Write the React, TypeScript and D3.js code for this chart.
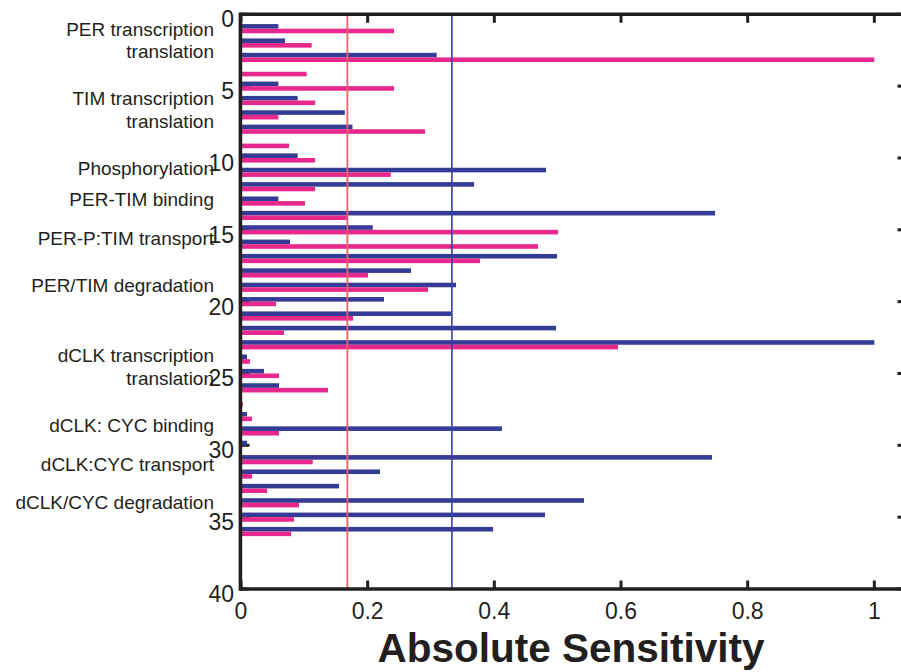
import React from "react";
import * as d3 from "d3";

// parameter index 1..36, two sensitivity series per parameter
const paramIndex = d3.range(1, 37);
const blueVals = [
  0.059, 0.0695, 0.309, 0, 0.059, 0.0895, 0.164, 0.176, 0, 0.0895,
  0.4816, 0.368, 0.059, 0.7485, 0.208, 0.0774, 0.499, 0.2684, 0.3395, 0.2258,
  0.3316, 0.4974, 1.0, 0.0095, 0.0363, 0.06, 0, 0.0095, 0.412, 0.0095,
  0.7437, 0.2195, 0.1547, 0.5416, 0.48, 0.398,
];
const pinkVals = [
  0.2416, 0.1116, 1.0, 0.1037, 0.2416, 0.117, 0.059, 0.2905, 0.0758, 0.117,
  0.2364, 0.117, 0.101, 0.1685, 0.5006, 0.469, 0.3774, 0.2005, 0.2953, 0.0553,
  0.1769, 0.0679, 0.5953, 0.0142, 0.06, 0.1374, 0.003, 0.0174, 0.06, 0.0016,
  0.1132, 0.0174, 0.041, 0.0916, 0.0837, 0.079,
];

const xTicks = [0, 0.2, 0.4, 0.6, 0.8, 1];
const xTickLabels = ["0", "0.2", "0.4", "0.6", "0.8", "1"];
const yTicks = [0, 5, 10, 15, 20, 25, 30, 35, 40];

// process group labels, placed at a parameter-index position
const groupLabels = [
  "PER transcription", "translation", "TIM transcription", "translation",
  "Phosphorylation", "PER-TIM binding", "PER-P:TIM transport", "PER/TIM degradation",
  "dCLK transcription", "translation", "dCLK: CYC binding", "dCLK:CYC transport",
  "dCLK/CYC degradation",
];
const groupLabelAt = [1.51, 3.06, 6.29, 7.89, 11.18, 13.34, 16.03, 19.3, 24.2, 25.8, 29.07, 31.78, 34.43];

const redLine = 0.168;
const blueLine = 0.333;

const W = 901, H = 672;
const BLUE = "#353c96";
const PINK = "#e8288c";

export default function App() {
  const x = d3.scaleLinear().domain([0, 1.05]).range([241, 906]);
  const y = d3.scaleLinear().domain([0, 40]).range([14.3, 589]);
  const barH = y(0.32) - y(0);
  const tickLen = 8.5;
  const font = "'Liberation Sans', Arial, Helvetica, sans-serif";
  const [x0, x1] = x.range();
  const [y0, y1] = y.range();

  return (
    <svg width={W} height={H} style={{ position: "absolute", left: 0, top: 0, background: "#fff" }}>
      {/* ticks (drawn under bars) */}
      <g stroke="#231f20" strokeWidth={3}>
        {yTicks.map(t => (
          <g key={"yt" + t}>
            <line x1={x0} x2={x0 + tickLen} y1={y(t)} y2={y(t)} />
            <line x1={x1 - tickLen} x2={x1} y1={y(t)} y2={y(t)} />
          </g>
        ))}
        {xTicks.map(t => (
          <g key={"xt" + t}>
            <line x1={x(t)} x2={x(t)} y1={y0} y2={y0 + tickLen} />
            <line x1={x(t)} x2={x(t)} y1={y1 - tickLen} y2={y1} />
          </g>
        ))}
      </g>

      {/* bars */}
      <g>
        {paramIndex.map((p, i) => (
          <g key={"b" + p}>
            {blueVals[i] > 0 && (
              <rect x={x(0)} y={y(p) - barH} width={x(blueVals[i]) - x(0)} height={barH} fill={BLUE} />
            )}
            {pinkVals[i] > 0 && (
              <rect x={x(0)} y={y(p)} width={x(pinkVals[i]) - x(0)} height={barH} fill={PINK} />
            )}
          </g>
        ))}
      </g>

      {/* threshold lines */}
      <line x1={x(redLine)} x2={x(redLine)} y1={y0} y2={y1} stroke="#e8606a" strokeWidth={1.8} />
      <line x1={x(blueLine)} x2={x(blueLine)} y1={y0} y2={y1} stroke="#3a3e9e" strokeWidth={1.6} />

      {/* frame */}
      <g stroke="#231f20" strokeWidth={3.6} fill="none">
        <line x1={x0 - 0.6} x2={x1} y1={y0} y2={y0} />
        <line x1={x0 - 0.6} x2={x1} y1={y1} y2={y1} />
        <line x1={x0 - 0.6} x2={x0 - 0.6} y1={y0 - 1.8} y2={y1 + 1.8} />
        <line x1={x1} x2={x1} y1={y0} y2={y1} />
      </g>

      {/* tick labels */}
      <g fontFamily={font} fontSize={23} fill="#231f20">
        {yTicks.map(t => (
          <text key={"yl" + t} x={234} y={y(t) + 13} textAnchor="end">{t}</text>
        ))}
        {xTicks.map((t, i) => (
          <text key={"xl" + t} x={x(t)} y={619} textAnchor="middle">{xTickLabels[i]}</text>
        ))}
      </g>

      {/* group labels */}
      <g fontFamily={font} fontSize={19} fill="#231f20">
        {groupLabels.map((g, i) => (
          <text key={"g" + i} x={214} y={y(groupLabelAt[i])} textAnchor="end">{g}</text>
        ))}
      </g>

      <text x={571} y={662} textAnchor="middle" fontFamily={font} fontSize={40.5} fontWeight="bold" fill="#231f20">
        Absolute Sensitivity
      </text>
    </svg>
  );
}
